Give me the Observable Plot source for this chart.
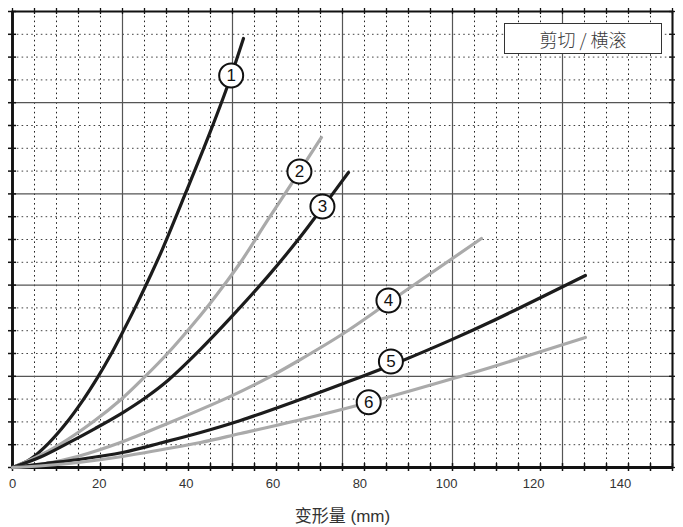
<!DOCTYPE html>
<html><head><meta charset="utf-8">
<script src="https://cdn.jsdelivr.net/npm/d3@7"></script>
<script src="https://cdn.jsdelivr.net/npm/@observablehq/plot@0.6"></script>
<style>
body{margin:0;background:#fff}
#wrap{position:relative;width:683px;height:527px}
#legend{position:absolute;left:504px;top:23px;width:156px;height:29px;border:1.3px solid #333;background:#fff;font-family:"Noto Sans CJK SC",sans-serif;font-weight:300;font-size:18px;color:#3a3a3a;display:flex;align-items:center;justify-content:center;line-height:1}
</style>
</head><body><div id="wrap"><div id="legend">剪切 / 横滚</div></div>
<script>
// Curves: [deformation mm, relative value (0–100 = full height)]
const curve1 = [[0,0],[4.14,1.85],[8.29,5.3],[12.43,9.8],[16.12,14.6],[19.57,19.7],[22.57,24.6],[25.33,29.6],[28.78,36.1],[31.78,42.1],[34.54,47.9],[39.83,60.1],[45.13,72.6],[49.5,83.6],[53.19,94.1]];
const curve2 = [[0,0],[5.3,2.19],[10.75,4.98],[18.42,9.93],[25.33,15.2],[30.32,19.74],[35.92,25.22],[40.76,30.48],[45.13,35.53],[48.81,40.13],[52.5,44.96],[58.72,54.17],[66.08,64.91],[71.15,72.37]];
const curve3 = [[0,0],[6.45,2.3],[12.66,5.3],[19.11,8.6],[25.33,12.0],[30.62,15.3],[35.92,19.2],[43.29,25.9],[50.2,32.8],[58.71,41.8],[66.31,50.6],[71.38,57.0],[77.37,64.7]];
const curve4 = [[0,0],[7.6,0.88],[14.97,2.41],[24.87,5.48],[35.69,9.65],[50.2,15.6],[58.71,19.6],[65.62,23.3],[76.21,29.39],[86.58,36.18],[107.99,50.22]];
const curve5 = [[0,0],[7.6,0.88],[15.2,1.75],[25.33,3.29],[34.54,5.48],[43.29,7.68],[52.5,10.31],[65.62,14.69],[76.21,18.42],[89.34,23.25],[101.54,28.2],[110.06,31.9],[131.94,42.11]];
const curve6 = [[0,0],[7.6,0.44],[15.2,1.1],[25.33,2.41],[34.54,3.95],[43.29,5.48],[52.5,7.46],[65.62,10.31],[81.97,14.25],[103.85,20.18],[110.06,21.93],[131.94,28.51]];
const curveColors = ["#1c1c1c","#aaaaaa","#1c1c1c","#aaaaaa","#1c1c1c","#aaaaaa"];
const labelNames = ["1","2","3","4","5","6"];
const labelX = [50.36,66.08,71.38,86.58,87.15,82.04];
const labelY = [85.96,64.91,57.24,36.62,23.25,14.32];
const xTickLabels = [0,20,40,60,80,100,120,140];
const xTitle = "变形量 (mm)";

const xMax = 152, yMax = 100;
const W = 683, H = 527, mL = 12, mR = 11, mT = 11, mB = 60;
const plotW = W - mL - mR, plotH = H - mT - mB;
const xGrid = d3.range(31).map(i => i * xMax / 30);
const yGrid = d3.range(21).map(i => i * yMax / 20);
const xMinor = xGrid.filter((d, i) => i % 5 !== 0);
const xMajor = xGrid.filter((d, i) => i % 5 === 0);
const yMinor = yGrid.filter((d, i) => i % 4 !== 0);
const yMajor = yGrid.filter((d, i) => i % 4 === 0);

const curves = [curve1, curve2, curve3, curve4, curve5, curve6];
const labels = labelNames.map((n, i) => ({n, x: labelX[i], y: labelY[i]}));

const chart = Plot.plot({
  width: W, height: H,
  marginLeft: mL, marginRight: mR, marginTop: mT, marginBottom: mB,
  style: {fontFamily: "'Liberation Sans', Arial, 'Noto Sans CJK SC', sans-serif", background: "#fff"},
  x: {domain: [0, xMax], axis: null},
  y: {domain: [0, yMax], axis: null},
  marks: [
    Plot.ruleX(xMinor, {stroke: "#222", strokeWidth: 1, strokeDasharray: "1.6,3.2"}),
    Plot.ruleY(yMinor, {stroke: "#444", strokeWidth: 1, strokeDasharray: "1.6,3.2"}),
    Plot.ruleX(xMajor, {stroke: "#555", strokeWidth: 1.2}),
    Plot.ruleY(yMajor, {stroke: "#555", strokeWidth: 1.2}),
    Plot.ruleX(xGrid, {insetTop: plotH - 4, insetBottom: -4, stroke: "#111", strokeWidth: 1.5}),
    Plot.ruleX(xGrid, {insetTop: -3, insetBottom: plotH - 3, stroke: "#111", strokeWidth: 1.3}),
    Plot.ruleY(yGrid, {insetLeft: -4, insetRight: plotW - 4, stroke: "#111", strokeWidth: 1.5}),
    Plot.ruleY(yGrid, {insetLeft: plotW - 3, insetRight: -3, stroke: "#111", strokeWidth: 1.3}),
    Plot.frame({stroke: "#111", strokeWidth: 2}),
    Plot.ruleX([0], {stroke: "#111", strokeWidth: 2.8}),
    Plot.ruleY([0], {stroke: "#111", strokeWidth: 2.8}),
    ...curves.map((c, i) => Plot.line(c, {x: d => d[0], y: d => d[1], stroke: curveColors[i], strokeWidth: 3.2, curve: "catmull-rom"})),
    Plot.dot(labels, {x: "x", y: "y", r: 12, fill: "#fff", stroke: "#111", strokeWidth: 2}),
    Plot.text(labels, {x: "x", y: "y", text: "n", fontSize: 17, fill: "#111", dy: 0.5}),
    Plot.axisX(xTickLabels, {tickSize: 0, tickPadding: 11, fontSize: 13, fill: "#333", label: null}),
    Plot.text([xTitle], {frameAnchor: "bottom", dy: 54, fontSize: 17, fill: "#333", fontFamily: "'Liberation Sans', 'Noto Sans CJK SC', sans-serif"})
  ]
});
document.getElementById("wrap").prepend(chart);
</script>
</body></html>
